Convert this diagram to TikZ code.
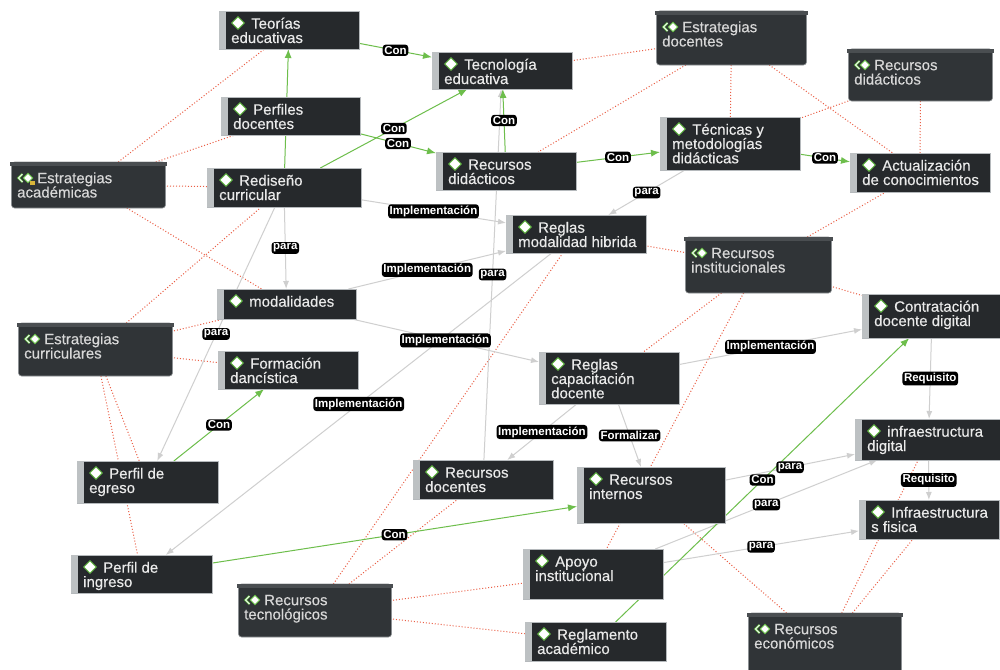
\documentclass[tikz,border=0pt]{standalone}
\usepackage{fontspec}
\setmainfont{Liberation Sans}
\newfontfamily\boxfont[FakeBold=0.35]{Liberation Sans}
\usetikzlibrary{shapes.geometric,arrows.meta}
\definecolor{cfill}{HTML}{26292C}
\definecolor{cbord}{HTML}{B5B9BC}
\definecolor{cstripc}{HTML}{BDC1C3}
\definecolor{gfill}{HTML}{303437}
\definecolor{gbar}{HTML}{4A4E51}
\definecolor{gbord}{HTML}{8C9093}
\definecolor{ctextc}{HTML}{EAEAEA}
\definecolor{gtextc}{HTML}{D8D8D8}
\definecolor{reddot}{HTML}{EA5E45}
\definecolor{greenc}{HTML}{6DBE4B}
\definecolor{grayc}{HTML}{CFCFCF}
\definecolor{diag}{HTML}{5DB83C}
\definecolor{yellowc}{HTML}{D9B53A}
\pgfdeclarelayer{bg}\pgfdeclarelayer{edges}\pgfdeclarelayer{labels}
\pgfsetlayers{bg,edges,labels,main}
\tikzset{
  boxnode/.style={inner sep=0pt, outer sep=0pt, anchor=north west},
  cboxst/.style={boxnode, draw=cbord, fill=cfill, line width=0.8pt},
  diast/.style={diamond, fill=white, draw=diag, line width=0.9pt, inner sep=0pt, minimum width=13pt, minimum height=13pt},
  ctextst/.style={anchor=north west, inner sep=0pt, align=left, text=ctextc, font={\boxfont\fontsize{15}{14.3}\selectfont\lineskiplimit=-20pt}},
  gtextst/.style={ctextst, text=gtextc},
  gline/.style={draw=greenc, line width=1pt, -{Latex[length=9pt,width=7pt]}},
  gyline/.style={draw=grayc, line width=1pt, -{Latex[length=8pt,width=6pt]}},
  rline/.style={draw=reddot, line width=1pt, dash pattern=on 1pt off 2pt},
  elab/.style={fill=black, text=white, font={\fontsize{11.5}{12}\selectfont\bfseries}, rounded corners=3pt, inner sep=1.6pt}
}
\newcommand{\cNode}[6]{%
  \node[cboxst, minimum width={#4-#2}, minimum height={#5-#3}] (#1) at (#2,#3) {};
  \fill[cstripc] ([shift={(0.4pt,-0.4pt)}]#1.north west) rectangle ([shift={(7pt,0.4pt)}]#1.south west);
  \node[diast] (#1-dia) at ([shift={(19pt,-12pt)}]#1.north west) {};
  \node[ctextst] (#1-txt) at ([shift={(12pt,-6pt)}]#1.north west) {\rule{0pt}{11.5pt}\hspace*{20pt}#6};
}
\newcommand{\gNode}[6]{%
  \node[boxnode, minimum width={#4-#2}, minimum height={#5-#3}] (#1) at (#2,#3) {};
  \filldraw[fill=gfill, draw=gbord, line width=0.6pt, rounded corners=3pt] ([xshift=1.5pt]#1.north west) -- ([xshift=1.5pt]#1.south west) -- ([xshift=-1.5pt]#1.south east) -- ([xshift=-1.5pt]#1.north east) -- cycle;
  \fill[gbar] (#1.north west) rectangle ([yshift=-4pt]#1.north east);
  \draw[diag, line width=2.2pt] ([shift={(12.5pt,-12pt)}]#1.north west) -- ([shift={(8.5pt,-16pt)}]#1.north west) -- ([shift={(12.5pt,-20pt)}]#1.north west);
  \draw[white, line width=0.8pt] ([shift={(12.5pt,-12pt)}]#1.north west) -- ([shift={(8.5pt,-16pt)}]#1.north west) -- ([shift={(12.5pt,-20pt)}]#1.north west);
  \node[diast, minimum width=10pt, minimum height=10pt] (#1-dia) at ([shift={(18pt,-16pt)}]#1.north west) {};
  \node[gtextst] (#1-txt) at ([shift={(7pt,-9.5pt)}]#1.north west) {\rule{0pt}{11.5pt}\hspace*{20pt}#6};
}
\begin{document}
\begin{tikzpicture}[x=1pt,y=-1pt]
\useasboundingbox (0,0) rectangle (1000,669);
\begin{pgfonlayer}{bg}
\fill[white] (0,0) rectangle (1000,669);
\end{pgfonlayer}

% concept nodes
\cNode{teo}{219}{11}{359}{49}{Teorías\\educativas}
\cNode{tec}{432}{52}{572}{89}{Tecnología\\educativa}
\cNode{per}{221}{97}{360}{135}{Perfiles\\docentes}
\cNode{redis}{207}{168}{361}{207}{Rediseño\\curricular}
\cNode{rdc}{436}{152}{576}{190}{Recursos\\didácticos}
\cNode{tm}{660}{117}{800}{170}{Técnicas y\\metodologías\\didácticas}
\cNode{act}{850}{153}{990}{192}{Actualización\\de conocimientos}
\cNode{rmh}{506}{215}{646}{253}{Reglas\\modalidad hibrida}
\cNode{mod}{217}{289}{356}{319}{modalidades}
\cNode{fd}{218}{351}{358}{389}{Formación\\dancística}
\cNode{cdd}{862}{294}{1002}{338}{Contratación\\docente digital}
\cNode{rcd}{539}{352}{679}{404}{Reglas\\capacitación\\docente}
\cNode{idig}{855}{419}{1002}{460}{infraestructura\\digital}
\cNode{ifs}{859}{500}{999}{539}{Infraestructura\\s fisica}
\cNode{pe}{77}{461}{218}{503}{Perfil de\\egreso}
\cNode{pi}{71}{555}{212}{593}{Perfil de\\ingreso}
\cNode{rdo}{413}{460}{553}{499}{Recursos\\docentes}
\cNode{rint}{577}{467}{725}{523}{Recursos\\internos}
\cNode{ai}{523}{549}{663}{599}{Apoyo\\institucional}
\cNode{ra}{525}{622}{666}{661}{Reglamento\\académico}

% group nodes
\gNode{ea}{10}{162}{167}{208}{Estrategias\\académicas}
\fill[yellowc] ([shift={(20pt,-19pt)}]ea.north west) rectangle ([shift={(25pt,-23pt)}]ea.north west);
\gNode{ed}{655}{11}{808}{65}{Estrategias\\docentes}
\gNode{rdg}{847}{49}{994}{101}{Recursos\\didácticos}
\gNode{ec}{17}{323}{174}{376}{Estrategias\\curriculares}
\gNode{rin}{684}{237}{833}{293}{Recursos\\institucionales}
\gNode{rt}{237}{584}{393}{637}{Recursos\\tecnológicos}
\gNode{reco}{747}{613}{903}{680}{Recursos\\económicos}

\begin{pgfonlayer}{edges}
% red dotted membership lines
\draw[rline] (ea) -- (teo);
\draw[rline] (ea) -- (per);
\draw[rline] (ea) -- (redis);
\draw[rline] (ea) -- (mod);
\draw[rline] (ec) -- (redis);
\draw[rline] (ec) -- (mod);
\draw[rline] (ec) -- (fd);
\draw[rline] (ec) -- (pe);
\draw[rline] (ec) -- (pi);
\draw[rline] (ed) -- (tec);
\draw[rline] (ed) -- (rdc);
\draw[rline] (ed) -- (tm);
\draw[rline] (ed) -- (act);
\draw[rline] (rdg) -- (tm);
\draw[rline] (rdg) -- (act);
\draw[rline] (rin) -- (act);
\draw[rline] (rin) -- (rmh);
\draw[rline] (rin) -- (cdd);
\draw[rline] (rin) -- (rcd);
\draw[rline] (rin) -- (ai);
\draw[rline] (reco) -- (rint);
\draw[rline] (reco) -- (idig);
\draw[rline] (reco) -- (ifs);
\draw[rline] (rt) -- (rmh);
\draw[rline] (rt) -- (rdo);
\draw[rline] (rt) -- (ai);
\draw[rline] (rt) -- (ra);
% gray arrows
\draw[gyline] (redis) -- (rmh);
\draw[gyline] (mod) -- (rmh);
\draw[gyline] (redis) -- (mod);
\draw[gyline] (redis) -- (pe);
\draw[gyline] (tm) -- (rmh);
\draw[gyline] (rdo) -- (tec);
\draw[gyline] (rmh) -- (pi);
\draw[gyline] (mod) -- (rcd);
\draw[gyline] (rcd) -- (cdd);
\draw[gyline] (rcd) -- (rdo);
\draw[gyline] (rcd) -- (rint);
\draw[gyline] (cdd) -- (idig);
\draw[gyline] (idig) -- (ifs);
\draw[gyline] (rint) -- (idig);
\draw[gyline] (ai) -- (idig);
\draw[gyline] (ai) -- (ifs);
% green arrows
\draw[gline] (redis) -- (teo);
\draw[gline] (teo) -- (tec);
\draw[gline] (redis) -- (tec);
\draw[gline] (per) -- (rdc);
\draw[gline] (rdc) -- (tec);
\draw[gline] (rdc) -- (tm);
\draw[gline] (tm) -- (act);
\draw[gline] (pe) -- (fd);
\draw[gline] (pi) -- (rint);
\draw[gline] (ra) -- (cdd);
\end{pgfonlayer}

\begin{pgfonlayer}{labels}
\path (redis) -- node[elab] (l1) {Implementación} (rmh);
\path (mod) -- node[elab] (l2) {Implementación} (rmh);
\path (redis) -- node[elab] (l3) {para} (mod);
\path (redis) -- node[elab] (l4) {para} (pe);
\path (tm) -- node[elab] (l5) {para} (rmh);
\path (rdo) -- node[elab] (l6) {para} (tec);
\path (rmh) -- node[elab] (l7) {Implementación} (pi);
\path (mod) -- node[elab] (l8) {Implementación} (rcd);
\path (rcd) -- node[elab] (l9) {Implementación} (cdd);
\path (rcd) -- node[elab] (l10) {Implementación} (rdo);
\path (rcd) -- node[elab] (l11) {Formalizar} (rint);
\path (cdd) -- node[elab] (l12) {Requisito} (idig);
\path (idig) -- node[elab] (l13) {Requisito} (ifs);
\path (rint) -- node[elab] (l14) {para} (idig);
\path (ai) -- node[elab] (l15) {para} (idig);
\path (ai) -- node[elab] (l16) {para} (ifs);
\path (teo) -- node[elab] (l17) {Con} (tec);
\path (redis) -- node[elab] (l18) {Con} (tec);
\path (per) -- node[elab] (l19) {Con} (rdc);
\path (rdc) -- node[elab] (l20) {Con} (tec);
\path (rdc) -- node[elab] (l21) {Con} (tm);
\path (tm) -- node[elab] (l22) {Con} (act);
\path (pe) -- node[elab] (l23) {Con} (fd);
\path (pi) -- node[elab] (l24) {Con} (rint);
\path (ra) -- node[elab] (l25) {Con} (cdd);
\end{pgfonlayer}
\end{tikzpicture}
\end{document}
